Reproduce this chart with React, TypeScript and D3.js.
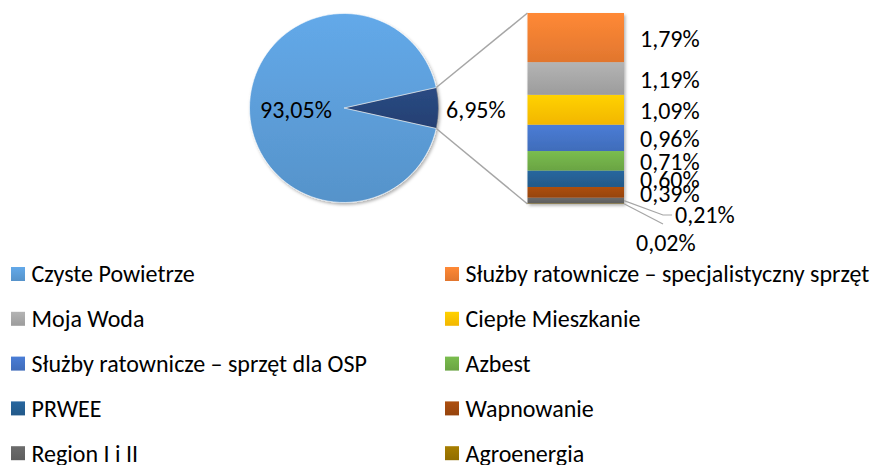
import * as d3 from "d3";
import { useEffect, useRef } from "react";

// udzialy programow w calosci (%)
const categories = [
  "Czyste Powietrze",
  "Służby ratownicze – specjalistyczny sprzęt",
  "Moja Woda",
  "Ciepłe Mieszkanie",
  "Służby ratownicze – sprzęt dla OSP",
  "Azbest",
  "PRWEE",
  "Wapnowanie",
  "Region I i II",
  "Agroenergia",
];
const shares = [93.05, 1.79, 1.19, 1.09, 0.96, 0.71, 0.6, 0.39, 0.21, 0.02];
const otherShare = 6.95;
const colors = [
  "#5b9bd5", "#ed7d31", "#a5a5a5", "#ffc000", "#4472c4",
  "#70ad47", "#255e91", "#9e480e", "#636363", "#997300",
];
const otherColor = "#264478";

const FONT = "Carlito, Calibri, Lato, sans-serif";
const FS = 24;

export default function App() {
  const ref = useRef<SVGSVGElement>(null);

  useEffect(() => {
    const svg = d3.select(ref.current);
    svg.selectAll("*").remove();
    const fmt = (v: number) => d3.format(".2f")(v).replace(".", ",") + "%";

    const defs = svg.append("defs");
    const shadow = defs.append("filter").attr("id", "sh")
      .attr("x", "-10%").attr("y", "-10%").attr("width", "130%").attr("height", "130%");
    shadow.append("feDropShadow").attr("dx", 1.5).attr("dy", 2).attr("stdDeviation", 1.5)
      .attr("flood-color", "#000").attr("flood-opacity", 0.3);

    const allColors = [...colors, otherColor];
    allColors.forEach((c, i) => {
      const g = defs.append("linearGradient").attr("id", "g" + i)
        .attr("x1", 0).attr("y1", 0).attr("x2", 0).attr("y2", 1);
      g.append("stop").attr("offset", "0%").attr("stop-color", d3.color(c)!.brighter(0.25).formatHex());
      g.append("stop").attr("offset", "100%").attr("stop-color", d3.color(c)!.darker(0.15).formatHex());
    });

    // kolo
    const cx = 344, cy = 108, r = 94.5;
    const pieData = [
      { name: "other", value: otherShare, fill: "url(#g10)" },
      { name: categories[0], value: shares[0], fill: "url(#g0)" },
    ];
    const otherAngle = (otherShare / (otherShare + shares[0])) * 2 * Math.PI;
    const start = Math.PI / 2 - otherAngle / 2;
    const pie = d3.pie<any>().sort(null).value(d => d.value)
      .startAngle(start).endAngle(start + 2 * Math.PI);
    const arc = d3.arc<any>().innerRadius(0).outerRadius(r);
    const arcs = pie(pieData);

    const pg = svg.append("g").attr("transform", `translate(${cx},${cy})`);
    pg.append("g").attr("filter", "url(#sh)")
      .selectAll("path").data(arcs).enter().append("path")
      .attr("d", arc)
      .attr("fill", d => d.data.fill)
      .attr("stroke", d => d.data.name === "other" ? "#8a8a8a" : "#fff")
      .attr("stroke-width", 0.6);

    // slupek
    const breakdown = categories.slice(1).map((c, i) => ({ name: c, value: shares[i + 1], idx: i + 1 }));
    const total = d3.sum(breakdown, d => d.value);
    const barX = 527.5, barW = 96.5;
    const y = d3.scaleLinear().domain([0, total]).range([204, 13]);
    const stacked: any[] = [];
    let acc = 0;
    [...breakdown].reverse().forEach(d => {
      stacked.push({ ...d, y0: acc, y1: acc + d.value });
      acc += d.value;
    });

    // linie laczace
    const a0 = arcs[0];
    const p1 = [cx + r * Math.sin(a0.startAngle), cy - r * Math.cos(a0.startAngle)];
    const p2 = [cx + r * Math.sin(a0.endAngle), cy - r * Math.cos(a0.endAngle)];
    svg.append("line").attr("x1", p1[0]).attr("y1", p1[1]).attr("x2", barX).attr("y2", y(total))
      .attr("stroke", "#a6a6a6").attr("stroke-width", 1.5);
    svg.append("line").attr("x1", p2[0]).attr("y1", p2[1]).attr("x2", barX).attr("y2", y(0))
      .attr("stroke", "#a6a6a6").attr("stroke-width", 1.5);

    svg.append("g").attr("filter", "url(#sh)")
      .selectAll("rect").data(stacked).enter().append("rect")
      .attr("x", barX).attr("width", barW)
      .attr("y", d => y(d.y1)).attr("height", d => y(d.y0) - y(d.y1))
      .attr("fill", d => `url(#g${d.idx})`);

    const label = (x: number, yy: number, t: string, anchor = "start") =>
      svg.append("text").attr("x", x).attr("y", yy).attr("dy", "0.35em")
        .attr("text-anchor", anchor).attr("font-family", FONT).attr("font-size", FS)
        .attr("fill", "#000").text(t);

    label(260, 110, fmt(shares[0]));
    label(446, 110, fmt(otherShare));

    // etykiety slupka
    const moved: Record<number, [number, number]> = { 8: [675, 215], 9: [636, 243] };
    stacked.forEach(d => {
      const mid = y((d.y0 + d.y1) / 2);
      if (moved[d.idx]) {
        const [lx, ly] = moved[d.idx];
        const ex = 663, ey = d.idx === 8 ? 215 : 224;
        svg.append("polyline")
          .attr("points", `${barX + barW},${mid} ${ex},${ey} ${d.idx === 8 ? ex + 9 : ex},${ey}`)
          .attr("fill", "none").attr("stroke", "#a6a6a6").attr("stroke-width", 1.2);
        label(lx, ly, fmt(d.value));
      } else {
        label(640, mid + 1, fmt(d.value));
      }
    });

    // legenda
    const lg = svg.append("g");
    categories.forEach((c, i) => {
      const col = i % 2, row = Math.floor(i / 2);
      const lx = col === 0 ? 11 : 445;
      const ly = 274 + row * 44.8;
      lg.append("rect").attr("x", lx).attr("y", ly - 7).attr("width", 14).attr("height", 14)
        .attr("fill", `url(#g${i})`);
      lg.append("text").attr("x", lx + 20.5).attr("y", ly).attr("dy", "0.35em")
        .attr("font-family", FONT).attr("font-size", FS).attr("fill", "#000").text(c);
    });
  }, []);

  return (
    <svg ref={ref} width={873} height={465}
      style={{ position: "absolute", left: 0, top: 0, background: "#fff" }} />
  );
}
